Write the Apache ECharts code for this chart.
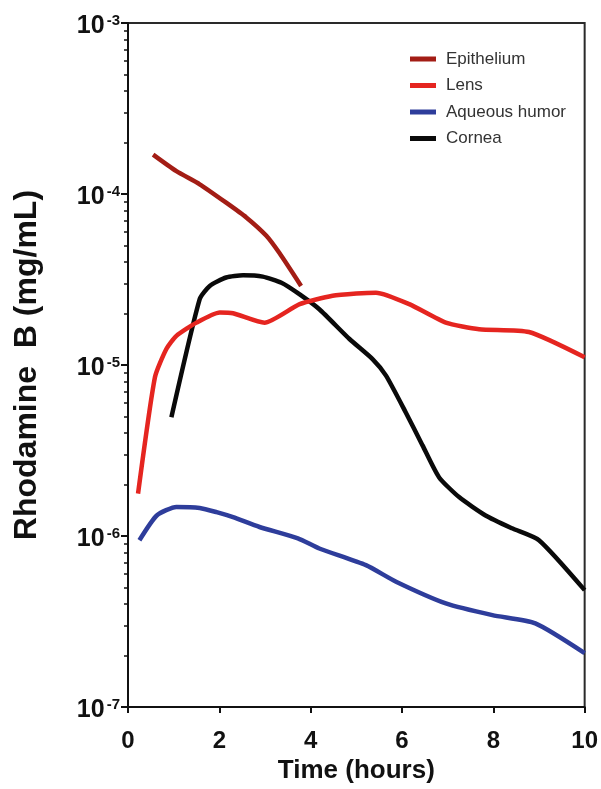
<!DOCTYPE html>
<html>
<head>
<meta charset="utf-8">
<script src="https://cdn.jsdelivr.net/npm/echarts@6/dist/echarts.min.js"></script>
<style>
html,body{margin:0;padding:0;background:#fff;}
#main{width:601px;height:789px;}
</style>
</head>
<body>
<div id="main"></div>
<script>
// ---- data ----
const seriesNames = ['Epithelium', 'Lens', 'Aqueous humor', 'Cornea'];

const epitheliumX = [0.55, 1.06, 1.57, 2.15, 2.59, 3.03, 3.32, 3.79];
const epitheliumY = [1.70e-4, 1.36e-4, 1.14e-4, 8.9e-5, 7.3e-5, 5.7e-5, 4.5e-5, 2.9e-5];

const lensX = [0.22, 0.59, 0.84, 1.06, 1.5, 2.01, 2.3, 2.99, 3.76, 4.48, 5.0, 5.43, 6.16, 6.96, 7.69, 8.78, 10.0];
const lensY = [1.77e-6, 8.48e-6, 1.24e-5, 1.48e-5, 1.77e-5, 2.03e-5, 2.01e-5, 1.77e-5, 2.27e-5, 2.54e-5, 2.62e-5, 2.65e-5, 2.27e-5, 1.77e-5, 1.62e-5, 1.56e-5, 1.11e-5];

const aqueousX = [0.25, 0.63, 1.06, 1.57, 1.94, 2.3, 2.88, 3.72, 4.19, 5.21, 5.87, 6.96, 7.98, 8.92, 10.0];
const aqueousY = [9.46e-7, 1.32e-6, 1.48e-6, 1.46e-6, 1.38e-6, 1.29e-6, 1.13e-6, 9.7e-7, 8.46e-7, 6.76e-7, 5.41e-7, 4.04e-7, 3.45e-7, 3.09e-7, 2.07e-7];

const corneaX = [0.95, 1.57, 1.79, 2.15, 2.52, 2.95, 3.36, 3.76, 4.19, 4.85, 5.36, 5.65, 6.08, 6.45, 6.81, 7.25, 7.83, 8.41, 9.0, 10.0];
const corneaY = [4.95e-6, 2.43e-5, 2.9e-5, 3.25e-5, 3.35e-5, 3.29e-5, 3.03e-5, 2.59e-5, 2.12e-5, 1.42e-5, 1.08e-5, 8.67e-6, 5.3e-6, 3.39e-6, 2.21e-6, 1.69e-6, 1.32e-6, 1.11e-6, 9.46e-7, 4.83e-7];

const xTicks = [0, 2, 4, 6, 8, 10];
const yMajorTicks = [1e-7, 1e-6, 1e-5, 1e-4, 1e-3];
const yMinorMultipliers = [2, 3, 4, 5, 6, 7, 8, 9];

// ---- build ----
const zip = (xs, ys) => xs.map((x, i) => [x, ys[i]]);
const minorTicks = [];
for (let d = 0; d < yMajorTicks.length - 1; d++) {
  yMinorMultipliers.forEach(m => minorTicks.push(yMajorTicks[d] * m));
}
const FONT = '"Liberation Sans", Arial, Helvetica, sans-serif';
const colors = ['#a31d15', '#e52520', '#2e3d9b', '#0a0a0a'];
const allX = [epitheliumX, lensX, aqueousX, corneaX];
const allY = [epitheliumY, lensY, aqueousY, corneaY];

const chart = echarts.init(document.getElementById('main'), null, {renderer: 'canvas'});
const option = {
  backgroundColor: '#fff',
  animation: false,
  grid: {left: 128, right: 15, top: 23, bottom: 80, show: true, borderColor: '#2a2a2a', borderWidth: 2, backgroundColor: 'transparent'},
  legend: {
    data: seriesNames,
    orient: 'vertical',
    left: 405,
    top: 45,
    icon: 'rect',
    itemWidth: 26,
    itemHeight: 5,
    itemGap: 8.5,
    textStyle: {fontFamily: FONT, fontSize: 17, color: '#333', lineHeight: 18, padding: [0, 0, 0, 5]}
  },
  xAxis: {
    type: 'value', min: 0, max: 10, interval: 2,
    name: 'Time (hours)', nameLocation: 'middle', nameGap: 49,
    nameTextStyle: {fontFamily: FONT, fontSize: 26, fontWeight: 'bold', color: '#111'},
    axisLine: {show: true, lineStyle: {color: '#111', width: 2}},
    axisTick: {show: true, length: 6, lineStyle: {color: '#111', width: 2}, customValues: xTicks},
    axisLabel: {fontFamily: FONT, fontSize: 24, fontWeight: 'bold', color: '#111', margin: 22, customValues: xTicks},
    splitLine: {show: false}
  },
  yAxis: [{
    type: 'log', logBase: 10, min: 1e-7, max: 1e-3,
    name: 'Rhodamine  B (mg/mL)', nameLocation: 'middle', nameGap: 85, nameRotate: 90,
    nameTextStyle: {fontFamily: FONT, fontSize: 32, fontWeight: 'bold', color: '#111'},
    axisLine: {show: true, lineStyle: {color: '#111', width: 2}},
    axisTick: {show: true, length: 7, lineStyle: {color: '#111', width: 2}, customValues: yMajorTicks},
    axisLabel: {
      margin: 8, customValues: yMajorTicks, padding: [6, 0, 0, 0],
      formatter: v => '{b|10}{s|' + Math.round(Math.log10(v)) + '}',
      rich: {
        b: {fontFamily: FONT, fontSize: 25, fontWeight: 'bold', color: '#111', lineHeight: 26},
        s: {fontFamily: FONT, fontSize: 15, fontWeight: 'bold', color: '#111', lineHeight: 15, verticalAlign: 'top', padding: [0, 0, 0, 2]}
      }
    },
    splitLine: {show: false}
  }, {
    type: 'log', logBase: 10, min: 1e-7, max: 1e-3, position: 'left',
    axisLine: {show: false},
    axisTick: {show: true, length: 4, lineStyle: {color: '#111', width: 1.5}, customValues: minorTicks},
    axisLabel: {show: false},
    splitLine: {show: false}
  }],
  series: [3, 2, 1, 0].map(i => ({
    name: seriesNames[i],
    type: 'line',
    data: zip(allX[i], allY[i]),
    showSymbol: false,
    symbol: 'none',
    smooth: 0.2,
    lineStyle: {color: colors[i], width: 4.5},
    itemStyle: {color: colors[i]}
  }))
};
chart.setOption(option);
</script>
</body>
</html>
